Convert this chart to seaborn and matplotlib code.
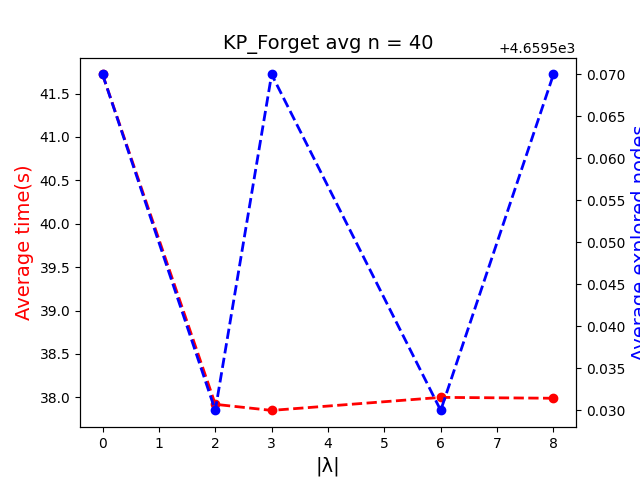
import matplotlib
matplotlib.use("Agg")
import matplotlib.pyplot as plt
import seaborn as sns

# data
lam = [0, 2, 3, 6, 8]
avg_time = [41.72, 37.92, 37.85, 38.00, 37.99]
avg_nodes = [4659.57, 4659.53, 4659.57, 4659.53, 4659.57]

fig, ax1 = plt.subplots(figsize=(6.4, 4.8), dpi=100)
sns.lineplot(x=lam, y=avg_time, ax=ax1, color='red', linestyle='--',
             marker='o', linewidth=2, markersize=6,
             markeredgecolor='red', markeredgewidth=1)
ax1.set_xlabel('|λ|', fontsize=14)
ax1.set_ylabel('Average time(s)', color='red', fontsize=14)

ax2 = ax1.twinx()
sns.lineplot(x=lam, y=avg_nodes, ax=ax2, color='blue', linestyle='--',
             marker='o', linewidth=2, markersize=6,
             markeredgecolor='blue', markeredgewidth=1)
ax2.set_ylabel('Average explored nodes', color='blue', fontsize=14)

ax1.set_title('KP_Forget avg n = 40', fontsize=14)
plt.savefig('out.png')
